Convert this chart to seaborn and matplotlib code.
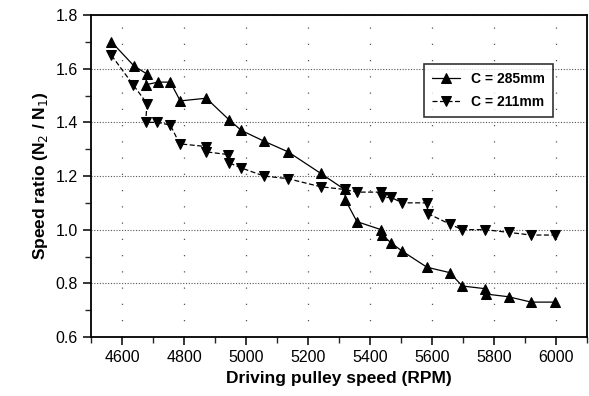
import matplotlib
matplotlib.use("Agg")
import matplotlib.pyplot as plt
import seaborn as sns
import pandas as pd
from matplotlib.ticker import MultipleLocator

rpm_285 = [4565, 4638, 4680, 4675, 4715, 4755, 4787, 4871, 4944, 4984, 5057, 5135, 5240,
           5317, 5320, 5357, 5435, 5439, 5468, 5503, 5583, 5656, 5697, 5771, 5774, 5846, 5919, 5995]
ratio_285 = [1.70, 1.61, 1.58, 1.54, 1.55, 1.55, 1.48, 1.49, 1.41, 1.37, 1.33, 1.29, 1.21,
             1.15, 1.11, 1.03, 1.00, 0.98, 0.95, 0.92, 0.86, 0.84, 0.79, 0.78, 0.76, 0.75, 0.73, 0.73]

rpm_211 = [4565, 4635, 4680, 4675, 4713, 4755, 4785, 4869, 4871, 4941, 4943, 4984, 5057, 5135, 5240,
           5317, 5357, 5435, 5439, 5468, 5503, 5583, 5586, 5658, 5697, 5771, 5846, 5919, 5995]
ratio_211 = [1.65, 1.54, 1.47, 1.40, 1.40, 1.39, 1.32, 1.31, 1.29, 1.28, 1.25, 1.23, 1.20, 1.19, 1.16,
             1.15, 1.14, 1.14, 1.12, 1.12, 1.10, 1.10, 1.06, 1.02, 1.00, 1.00, 0.99, 0.98, 0.98]

labels = ["C = 285mm", "C = 211mm"]

df = pd.concat([
    pd.DataFrame({"rpm": rpm_285, "ratio": ratio_285, "series": labels[0]}),
    pd.DataFrame({"rpm": rpm_211, "ratio": ratio_211, "series": labels[1]}),
])

sns.set_style("ticks")
plt.rcParams["font.family"] = ["Liberation Sans", "DejaVu Sans"]
plt.rcParams["text.color"] = "black"
plt.rcParams["axes.labelcolor"] = "black"

fig = plt.figure(figsize=(5.89, 3.96), dpi=100)
ax = fig.add_axes([0.155, 0.149, 0.842, 0.813])

sns.lineplot(data=df, x="rpm", y="ratio", hue="series", style="series", sort=False,
             estimator=None, palette=["black", "black"], markers=["^", "v"],
             dashes=[(None, None), (4, 2)], markersize=7, linewidth=0.9,
             markeredgecolor="black", ax=ax)

ax.set_xlim(4500, 6100)
ax.set_ylim(0.6, 1.8)
ax.xaxis.set_major_locator(MultipleLocator(200))
ax.xaxis.set_minor_locator(MultipleLocator(100))
ax.yaxis.set_major_locator(MultipleLocator(0.2))
ax.yaxis.set_minor_locator(MultipleLocator(0.1))
ax.yaxis.set_major_formatter(matplotlib.ticker.FormatStrFormatter("%.1f"))

ax.grid(axis="y", which="major", color="#555555", linestyle=(0, (1, 1.5)), linewidth=0.8)
ax.grid(axis="x", which="major", color="#555555", linestyle=(0, (1, 12)), linewidth=0.9)

for s in ax.spines.values():
    s.set_linewidth(1.3)
    s.set_color("black")
ax.tick_params(which="major", direction="out", length=6, width=1.1, labelsize=11.5,
               colors="black")
ax.tick_params(which="minor", direction="out", length=4, width=1.0)

ax.set_xlabel("Driving pulley speed (RPM)", fontsize=12.5, fontweight="bold")
ax.set_ylabel(r"Speed ratio (N$_2$ / N$_1$)", fontsize=12.5, fontweight="bold")

leg = ax.legend(loc="upper right", bbox_to_anchor=(0.945, 0.87), fontsize=10, frameon=True,
                fancybox=False, edgecolor="black", handlelength=2.0, borderpad=0.6,
                labelspacing=0.6)
leg.get_frame().set_linewidth(1.2)
for t in leg.get_texts():
    t.set_fontweight("bold")

fig.savefig("out.png", dpi=100)
